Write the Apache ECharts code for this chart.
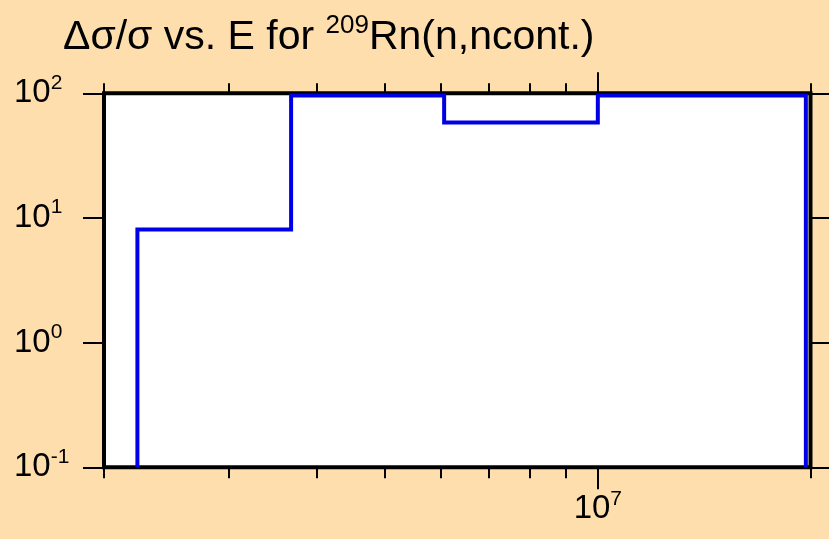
<!DOCTYPE html>
<html>
<head>
<meta charset="utf-8">
<title>Rn-209 (n,ncont.) uncertainty</title>
<script src="https://cdn.jsdelivr.net/npm/echarts@6/dist/echarts.min.js"></script>
<style>
  html, body { margin: 0; padding: 0; background: #ffdead; }
  #chart { width: 829px; height: 539px; }
</style>
</head>
<body>
<div id="chart"></div>
<script>
// energy bin edges (eV) and relative uncertainty in each bin (%)
const binEdges = [2.23e6, 3.68e6, 6.06e6, 1.0e7, 1.97e7]
const binValues = [8.1, 96, 58.4, 96]
const floorValue = 0.1

// axis ticks
const xMinorTicks = [2e6, 3e6, 4e6, 5e6, 6e6, 7e6, 8e6, 9e6, 2e7]
const xMajorTicks = [1e7]
const xRange = [2e6, 2e7]
const yRange = [0.1, 100]

const lg = v => Math.log10(v)

// step outline of the histogram
const stepPoints = [[lg(binEdges[0]), floorValue]]
binValues.forEach((v, i) => {
  stepPoints.push([lg(binEdges[i]), v], [lg(binEdges[i + 1]), v])
})
stepPoints.push([lg(binEdges[binEdges.length - 1]), floorValue])

const FONT = 'Liberation Sans'
const powRich = {
  b: { fontSize: 33, fontFamily: FONT, fontWeight: 'normal', color: '#000' },
  s: { fontSize: 21, fontFamily: FONT, fontWeight: 'normal', color: '#000', padding: [0, 0, 21, 0] }
}
const pow10 = v => '{b|10}{s|' + Math.round(v) + '}'

const tickStyle = { color: '#000', width: 2 }

const xBase = {
  type: 'value',
  min: lg(xRange[0]),
  max: lg(xRange[1]),
  gridIndex: 0,
  axisLine: { show: false },
  splitLine: { show: false }
}

const chart = echarts.init(document.getElementById('chart'))
chart.setOption({
  animation: false,
  backgroundColor: '#ffdead',
  title: {
    text: '{a|Δσ/σ vs. E for }{s|209}{a|Rn(n,ncont.)}',
    left: 58,
    top: 8,
    textStyle: {
      fontSize: 41,
      fontWeight: 'normal',
      fontFamily: FONT,
      rich: {
        a: { fontSize: 41, fontFamily: FONT, fontWeight: 'normal', color: '#000' },
        s: { fontSize: 26, fontFamily: FONT, fontWeight: 'normal', color: '#000', padding: [0, 0, 24, 0] }
      }
    }
  },
  grid: {
    left: 104,
    right: 18.5,
    top: 93.3,
    bottom: 71.7,
    show: true,
    backgroundColor: '#fff',
    borderColor: '#000',
    borderWidth: 4
  },
  xAxis: [
    Object.assign({}, xBase, {
      position: 'bottom',
      axisTick: { length: 11, lineStyle: tickStyle, customValues: xMinorTicks.map(lg) },
      axisLabel: { show: false }
    }),
    Object.assign({}, xBase, {
      position: 'bottom',
      axisTick: { length: 22, lineStyle: tickStyle, customValues: xMajorTicks.map(lg) },
      axisLabel: {
        margin: 21,
        fontSize: 33,
        fontFamily: FONT,
        customValues: xMajorTicks.map(lg),
        formatter: pow10,
        rich: powRich
      }
    }),
    Object.assign({}, xBase, {
      position: 'top',
      axisTick: { length: 10, lineStyle: tickStyle, customValues: xMinorTicks.map(lg) },
      axisLabel: { show: false }
    }),
    Object.assign({}, xBase, {
      position: 'top',
      axisTick: { length: 21, lineStyle: tickStyle, customValues: xMajorTicks.map(lg) },
      axisLabel: { show: false }
    })
  ],
  yAxis: [
    {
      type: 'log',
      logBase: 10,
      min: yRange[0],
      max: yRange[1],
      position: 'left',
      axisLine: { show: false },
      splitLine: { show: false },
      axisTick: { length: 21, lineStyle: tickStyle },
      axisLabel: {
        align: 'left',
        margin: 90,
        fontSize: 33,
        fontFamily: FONT,
        formatter: v => pow10(Math.log10(v)),
        rich: powRich
      }
    },
    {
      type: 'log',
      logBase: 10,
      min: yRange[0],
      max: yRange[1],
      position: 'right',
      axisLine: { show: false },
      splitLine: { show: false },
      axisTick: { length: 20, lineStyle: tickStyle },
      axisLabel: { show: false }
    }
  ],
  series: [
    {
      type: 'line',
      xAxisIndex: 0,
      yAxisIndex: 0,
      data: stepPoints,
      showSymbol: false,
      lineStyle: { color: '#0000e6', width: 4, join: 'miter' }
    }
  ]
})
</script>
</body>
</html>
